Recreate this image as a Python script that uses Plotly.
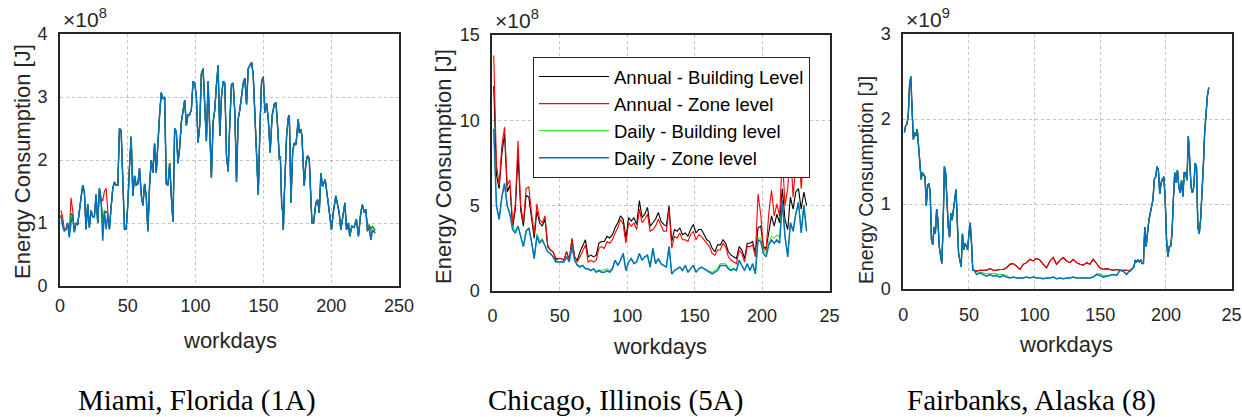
import numpy as np
import plotly.graph_objects as go

W, H = 1242, 417

# ---------------- DATA ----------------
# Miami, Florida (1A)  – units 1e8 J
miami_days_early = np.linspace(0.7, 153.6, 125)
miami_daily_zone_early = [
    1.13, 0.95, 0.87, 0.9, 1.0, 0.77, 1.0, 1.13, 0.85, 1.0,
    0.97, 1.2, 1.45, 1.6, 1.5, 0.9, 1.3, 0.93, 1.2, 1.1,
    1.1, 1.45, 1.0, 1.55, 1.35, 0.72, 1.2, 0.9, 1.13, 0.9,
    1.25, 1.55, 1.65, 1.6, 1.6, 2.5, 2.47, 1.65, 0.9, 0.9,
    1.3, 1.9, 2.37, 1.43, 1.75, 1.6, 1.62, 1.87, 1.45, 1.28,
    1.62, 1.43, 0.87, 1.6, 2.0, 1.8, 2.26, 1.8, 2.3, 2.72,
    3.07, 2.97, 3.0, 1.62, 1.6, 1.95, 1.43, 1.02, 2.5, 2.45,
    1.95, 2.2, 2.6, 2.75, 2.95, 2.55, 2.72, 2.72, 2.8, 3.25,
    3.22, 3.0, 2.28, 2.55, 3.37, 3.45, 2.72, 2.3, 3.25, 2.32,
    1.72, 2.6, 2.8, 3.2, 3.5, 2.38, 3.0, 3.25, 3.22, 2.07,
    1.82, 2.6, 3.2, 3.22, 2.75, 1.65, 2.65, 2.8, 3.0, 3.22,
    3.3, 2.88, 3.45, 3.5, 3.55, 3.35, 2.65, 2.0, 1.45, 2.5,
    3.25, 3.32, 2.75, 2.9, 2.65,
]
miami_days_late = [
    155.0, 156.4, 158.1, 159.3, 160.6, 161.8, 162.5, 163.5, 164.2, 164.7,
    165.4, 166.2, 167.1, 168.4, 169.1, 169.6, 170.3, 171.6, 172.8, 174.0,
    175.7, 176.5, 177.7, 178.4, 180.1, 181.4, 182.6, 183.8, 184.6, 185.8,
    187.0, 188.7, 190.0, 191.2, 192.4, 193.6, 195.6, 197.3, 199.0, 200.2,
    201.5, 203.4, 204.7, 205.9, 207.1, 208.3, 210.1, 211.3, 212.7, 213.7,
    215.2, 216.9, 218.6, 220.1, 221.8, 223.0, 224.5, 225.5, 226.7, 228.0,
    229.2, 230.4, 232.4,
]
miami_daily_zone_late = [
    2.12, 2.70, 2.89, 2.91, 2.49, 2.01, 2.06, 1.27, 1.19, 0.89,
    1.43, 2.01, 2.38, 2.68, 2.71, 2.22, 1.32, 2.14, 2.27, 2.24,
    2.65, 2.43, 2.49, 2.38, 1.59, 1.97, 2.07, 2.02, 1.59, 1.0,
    1.0, 1.32, 1.37, 1.16, 1.79, 1.58, 1.69, 1.43, 1.11, 0.89,
    1.16, 1.43, 1.27, 1.16, 0.89, 1.05, 1.32, 0.89, 1.0, 0.79,
    0.95, 0.93, 1.06, 0.79, 1.16, 1.29, 1.16, 1.22, 0.87, 0.95,
    0.73, 0.89, 0.84,
]
# where the other Miami series differ visibly from the blue one
miami_annual_zone_start = [1.2, 1.1, 0.9, 0.9, 1.0, 0.8, 1.4, 1.2, 0.88, 1.0]
miami_annual_zone_mid = [1.4, 1.35, 1.5, 1.55, 1.2]          # indices 24..28
miami_daily_bldg_start = [1.1, 0.97, 0.88, 0.9, 1.0, 0.8, 1.15, 1.13, 0.86, 1.0]
miami_daily_bldg_mid = [1.36, 1.0, 1.15, 1.18, 1.15]         # indices 24..28
miami_daily_bldg_end = [0.95, 0.97, 0.9, 0.95, 0.88]          # last 5 points

# Chicago, Illinois (5A) – units 1e8 J, every second workday
chicago_days = list(range(1, 234, 2))
chicago_annual_bldg = [
    12.0, 6.8, 6.0, 8.0, 9.2, 5.8, 6.2, 3.7, 4.8, 8.0,
    4.7, 3.8, 5.6, 5.5, 4.3, 3.1, 4.7, 4.0, 3.8, 4.2,
    2.6, 2.4, 2.3, 1.9, 1.9, 1.9, 1.8, 2.3, 1.8, 3.0,
    2.0, 1.8, 2.3, 2.7, 3.0, 2.0, 2.1, 2.0, 2.1, 2.8,
    2.9, 2.9, 3.2, 3.1, 3.3, 3.7, 4.0, 4.4, 4.2, 3.1,
    4.3, 4.1, 4.3, 3.9, 5.3, 4.3, 4.5, 4.9, 3.8, 4.0,
    4.2, 4.6, 4.1, 3.9, 3.8, 5.0, 2.9, 3.6, 3.5, 3.7,
    3.3, 3.4, 3.2, 3.6, 3.9, 3.4, 3.6, 3.6, 3.3, 3.0,
    2.9, 2.5, 2.3, 2.7, 2.7, 3.0, 2.8, 2.3, 2.1, 2.0,
    1.9, 2.6, 2.4, 1.9, 2.8, 2.8, 2.9, 2.2, 3.7, 3.8,
    2.6, 2.5, 3.5, 4.4, 3.8, 4.5, 4.0, 6.0, 4.2, 3.6,
    5.5, 4.8, 5.8, 6.0, 4.8, 5.8, 5.0,
]
chicago_annual_zone = [
    13.8, 7.4, 6.2, 8.5, 9.6, 6.2, 6.5, 3.9, 5.1, 8.8,
    5.0, 4.0, 6.0, 6.1, 4.6, 3.3, 5.1, 4.2, 4.0, 4.4,
    2.7, 2.4, 2.3, 1.8, 1.9, 1.9, 1.8, 2.3, 1.8, 3.1,
    2.0, 1.7, 2.0, 2.4, 2.7, 1.7, 1.8, 1.7, 1.8, 2.5,
    2.6, 2.5, 2.9, 2.8, 3.0, 3.4, 3.7, 4.2, 3.9, 2.8,
    4.0, 3.8, 4.0, 3.6, 4.8, 4.0, 4.2, 4.5, 3.5, 3.6,
    3.8, 4.2, 3.8, 3.5, 3.5, 4.8, 2.5, 3.2, 3.1, 3.4,
    3.0, 3.0, 2.9, 3.3, 3.5, 3.0, 3.3, 3.2, 3.0, 2.8,
    2.6, 2.2, 2.1, 2.4, 2.4, 2.8, 2.6, 2.0, 1.8, 1.7,
    1.6, 2.4, 2.2, 1.7, 2.6, 2.6, 2.7, 2.0, 5.7, 4.5,
    2.5, 2.4, 4.6, 5.9, 4.4, 5.1, 4.4, 8.0, 5.0, 6.0,
    8.5, 5.5, 7.5, 8.8, 6.0, 8.0, 7.0,
]
chicago_daily_bldg = [
    9.5, 5.0, 4.2, 5.5, 6.3, 5.0, 4.5, 3.75, 3.55, 3.8,
    3.2, 2.6, 3.5, 3.7, 2.9, 1.9, 3.35, 2.95, 3.0, 2.6,
    2.3, 2.2, 2.0, 1.75, 1.75, 1.7, 1.7, 2.0, 1.75, 2.65,
    1.85, 1.55, 1.45, 1.5, 1.3, 1.3, 1.2, 1.3, 1.15, 1.25,
    1.2, 1.25, 1.3, 1.2, 1.35, 1.8, 1.5, 1.8, 2.2, 1.2,
    1.7, 1.9, 1.6, 1.7, 2.2, 1.8, 2.0, 2.1, 1.4, 2.5,
    1.6, 1.9, 1.6, 1.5, 1.4, 2.6, 1.0, 1.2, 1.3, 1.4,
    1.2, 1.5, 1.1, 1.3, 1.5, 1.1, 1.3, 1.4, 1.3, 1.2,
    1.15, 1.1, 1.2, 1.35, 1.6, 1.6, 1.6, 1.4, 1.25, 1.35,
    1.2, 1.8, 1.5, 1.2, 1.6, 1.2, 1.6, 1.0, 3.1, 3.1,
    2.4, 2.2, 2.9, 3.2, 3.1, 3.3, 3.1, 5.3, 3.2, 2.1,
    4.0, 3.6, 4.5, 5.2, 3.5, 5.0, 3.6,
]
chicago_daily_zone = [
    9.5, 5.0, 4.2, 5.5, 6.3, 5.0, 4.5, 3.6, 3.4, 3.8,
    3.2, 2.6, 3.5, 3.7, 2.9, 1.9, 3.2, 2.8, 3.0, 2.6,
    2.3, 2.2, 2.0, 1.7, 1.7, 1.7, 1.7, 2.0, 1.7, 2.6,
    1.8, 1.5, 1.4, 1.5, 1.3, 1.3, 1.2, 1.3, 1.1, 1.2,
    1.1, 1.1, 1.2, 1.1, 1.3, 1.8, 1.5, 1.8, 2.2, 1.2,
    1.7, 1.9, 1.6, 1.7, 2.2, 1.8, 2.0, 2.1, 1.4, 2.5,
    1.6, 1.9, 1.6, 1.5, 1.4, 2.6, 1.0, 1.2, 1.3, 1.4,
    1.2, 1.5, 1.1, 1.3, 1.5, 1.1, 1.3, 1.4, 1.3, 1.2,
    1.1, 1.0, 1.1, 1.2, 1.5, 1.5, 1.5, 1.3, 1.2, 1.3,
    1.2, 1.8, 1.5, 1.2, 1.6, 1.2, 1.6, 1.0, 3.0, 2.9,
    2.2, 2.0, 2.7, 3.0, 2.8, 3.0, 2.8, 5.3, 3.2, 2.0,
    4.0, 3.5, 4.5, 5.2, 3.4, 5.0, 3.5,
]

# Fairbanks, Alaska (8) – units 1e9 J
fair_days_winter1 = np.linspace(0.8, 53.9, 55)
fair_winter1 = [
    1.84, 1.92, 1.94, 2.03, 2.39, 2.5, 2.11, 1.76, 1.84, 1.8,
    1.88, 1.64, 1.52, 1.29, 1.37, 1.35, 1.32, 0.98, 1.22, 1.24,
    1.14, 0.58, 0.52, 0.73, 0.65, 0.94, 0.81, 0.50, 0.42, 0.30,
    0.73, 1.44, 1.36, 1.06, 0.73, 0.61, 0.89, 0.81, 0.97, 1.05,
    1.17, 0.69, 0.42, 0.34, 0.26, 0.65, 0.46, 0.54, 0.5, 0.46,
    0.65, 0.78, 0.54, 0.22, 0.22,
]
fair_days_summer = np.linspace(55.8, 172.6, 47)
fair_summer_annual_zone = [
    0.21, 0.22, 0.22, 0.22, 0.24, 0.22, 0.22, 0.23, 0.23, 0.25,
    0.29, 0.30, 0.27, 0.23, 0.29, 0.31, 0.35, 0.33, 0.36, 0.34,
    0.29, 0.25, 0.33, 0.37, 0.29, 0.34, 0.37, 0.33, 0.31, 0.35,
    0.31, 0.29, 0.28, 0.31, 0.29, 0.35, 0.30, 0.25, 0.23, 0.24,
    0.23, 0.22, 0.23, 0.22, 0.22, 0.22, 0.21,
]
fair_summer_daily_bldg = [
    0.18, 0.20, 0.19, 0.18, 0.18, 0.18, 0.18, 0.17, 0.17, 0.16,
    0.13, 0.14, 0.13, 0.13, 0.13, 0.14, 0.13, 0.14, 0.13, 0.13,
    0.12, 0.13, 0.13, 0.14, 0.12, 0.13, 0.12, 0.13, 0.13, 0.14,
    0.13, 0.13, 0.13, 0.13, 0.13, 0.14, 0.18, 0.18, 0.16, 0.16,
    0.16, 0.17, 0.16, 0.22, 0.21, 0.17, 0.22,
]
fair_summer_daily_zone = [
    0.17, 0.19, 0.17, 0.15, 0.17, 0.15, 0.16, 0.14, 0.16, 0.14,
    0.13, 0.14, 0.13, 0.13, 0.13, 0.14, 0.13, 0.14, 0.13, 0.13,
    0.12, 0.13, 0.13, 0.14, 0.12, 0.13, 0.12, 0.13, 0.13, 0.14,
    0.13, 0.13, 0.13, 0.13, 0.13, 0.14, 0.17, 0.16, 0.14, 0.15,
    0.16, 0.17, 0.16, 0.22, 0.21, 0.17, 0.22,
]
fair_days_winter2 = np.linspace(175.6, 232.6, 56)
fair_winter2 = [
    0.26, 0.34, 0.32, 0.34, 0.32, 0.34, 0.30, 0.30, 0.73, 0.5,
    0.69, 0.81, 0.89, 0.97, 1.05, 1.29, 1.32, 1.44, 1.40, 1.12,
    1.25, 1.29, 1.32, 1.05, 0.58, 0.38, 0.5, 0.5, 0.65, 1.05,
    1.37, 1.25, 1.4, 1.2, 1.13, 1.28, 1.09, 1.37, 1.37, 1.28,
    1.8, 1.52, 1.2, 1.13, 1.2, 1.48, 1.44, 0.73, 0.65, 0.81,
    1.09, 1.44, 1.84, 2.11, 2.27, 2.37,
]

series_names = ["Annual - Building Level", "Annual - Zone level",
                "Daily - Building level", "Daily - Zone level"]
series_colors = ["#000000", "#FF0000", "#00E000", "#0072BD"]
series_widths = [1.1, 1.1, 0.9, 1.5]

x_ticks = [0, 50, 100, 150, 200, 250]
captions = ["Miami, Florida (1A)", "Chicago, Illinois (5A)", "Fairbanks, Alaska (8)"]
exponents = ["8", "8", "9"]
y_ranges = [[0, 4], [0, 15], [0, 3]]
y_ticks = [[0, 1, 2, 3, 4], [0, 5, 10, 15], [0, 1, 2, 3]]

# ---------------- assemble series ----------------
miami_x = np.concatenate([miami_days_early, miami_days_late])
miami_blue = list(miami_daily_zone_early) + list(miami_daily_zone_late)
miami_red = list(miami_blue)
miami_red[0:10] = miami_annual_zone_start
miami_red[24:29] = miami_annual_zone_mid
miami_green = list(miami_blue)
miami_green[0:10] = miami_daily_bldg_start
miami_green[24:29] = miami_daily_bldg_mid
miami_green[-5:] = miami_daily_bldg_end
miami_black = list(miami_green)

fair_x = np.concatenate([fair_days_winter1, fair_days_summer, fair_days_winter2])
fair_red = fair_winter1 + fair_summer_annual_zone + fair_winter2
fair_black = list(fair_red)
fair_green = fair_winter1 + fair_summer_daily_bldg + fair_winter2
fair_blue = fair_winter1 + fair_summer_daily_zone + fair_winter2

panels = [
    (miami_x, [miami_black, miami_red, miami_green, miami_blue]),
    (chicago_days, [chicago_annual_bldg, chicago_annual_zone, chicago_daily_bldg, chicago_daily_zone]),
    (fair_x, [fair_black, fair_red, fair_green, fair_blue]),
]

# ---------------- layout geometry (pixels) ----------------
boxes = [  # left, right, top, bottom
    (60, 399, 34, 286),
    (492.4, 829.5, 35, 291),
    (903.3, 1231.6, 34, 289),
]

def px(v):
    return v / W

def py(v):
    return 1 - v / H

fig = go.Figure()
for i, (xs, ys_list) in enumerate(panels):
    ax = "" if i == 0 else str(i + 1)
    for j, ys in enumerate(ys_list):
        fig.add_trace(go.Scatter(
            x=xs, y=ys, mode="lines", name=series_names[j],
            line=dict(color=series_colors[j], width=series_widths[j]),
            xaxis="x" + ax, yaxis="y" + ax,
            showlegend=(i == 1), hoverinfo="skip",
        ))

tick_font = dict(family="Liberation Sans, Arial", size=18, color="#262626")
grid_col = "rgba(38,38,38,0.28)"
layout = dict(
    width=W, height=H, autosize=False, margin=dict(l=0, r=0, t=0, b=0, pad=0),
    paper_bgcolor="white", plot_bgcolor="white",
    font=dict(family="Liberation Sans, Arial", color="#262626"),
)
standoffs_x = [2, 7, 8]
for i, (l, r, t, b) in enumerate(boxes):
    ax = "" if i == 0 else str(i + 1)
    xt = [str(v) for v in x_ticks]
    if i > 0:
        xt[-1] = "25"
    layout["xaxis" + ax] = dict(
        domain=[px(l), px(r)], anchor="y" + ax, range=[0, 250],
        tickvals=x_ticks, ticktext=xt, tickfont=tick_font,
        showgrid=True, gridcolor=grid_col, griddash="dot", gridwidth=1,
        showline=True, linecolor="#262626", linewidth=2, mirror=True,
        zeroline=False, ticks="", ticklabelstandoff=standoffs_x[i], fixedrange=True,
        automargin=False,
    )
    layout["yaxis" + ax] = dict(
        domain=[py(b), py(t)], anchor="x" + ax, range=y_ranges[i],
        tickvals=y_ticks[i], tickfont=tick_font,
        showgrid=True, gridcolor=grid_col, griddash="dot", gridwidth=1,
        showline=True, linecolor="#262626", linewidth=2, mirror=True,
        zeroline=False, ticks="", ticklabelstandoff=7, fixedrange=True,
        automargin=False,
    )

layout["legend"] = dict(
    x=px(533), y=py(57), xanchor="left", yanchor="top",
    bgcolor="white", bordercolor="#262626", borderwidth=1,
    font=dict(family="Liberation Sans, Arial", size=18.5, color="#000000"),
    itemwidth=70, tracegroupgap=0,
)

annotations = []
ytitle_pos = [(22, 162, 22), (443, 166, 22), (866, 180, 19.5)]
xtitle_pos = [(230, 340), (660, 346), (1066, 344)]
caption_pos = [(196.5, 400), (615.5, 400), (1031.5, 400)]
for i, (l, r, t, b) in enumerate(boxes):
    annotations.append(dict(
        text="×10<sup>" + exponents[i] + "</sup>", xref="paper", yref="paper",
        x=px(l + 1), y=py(t - 1), xanchor="left", yanchor="bottom", showarrow=False,
        font=dict(family="Liberation Sans, Arial", size=21, color="#262626"),
    ))
    yx, yy, ys = ytitle_pos[i]
    annotations.append(dict(
        text="Energy Consumption [J]", xref="paper", yref="paper",
        x=px(yx), y=py(yy), xanchor="center", yanchor="middle", textangle=-90,
        showarrow=False, font=dict(family="Liberation Sans, Arial", size=ys, color="#262626"),
    ))
    xx, xy = xtitle_pos[i]
    annotations.append(dict(
        text="workdays", xref="paper", yref="paper",
        x=px(xx), y=py(xy), xanchor="center", yanchor="middle",
        showarrow=False, font=dict(family="Liberation Sans, Arial", size=22, color="#262626"),
    ))
    cx, cy = caption_pos[i]
    annotations.append(dict(
        text=captions[i], xref="paper", yref="paper",
        x=px(cx), y=py(cy), xanchor="center", yanchor="middle",
        showarrow=False, font=dict(family="Liberation Serif, Times New Roman", size=29, color="#000000"),
    ))
layout["annotations"] = annotations

fig.update_layout(**layout)
fig.write_html(
    "out.html", include_plotlyjs=True, full_html=True,
    config={"displayModeBar": False, "responsive": False},
    post_script=(
        "document.documentElement.style.margin='0';"
        "document.documentElement.style.padding='0';"
        "document.documentElement.style.overflow='hidden';"
        "document.body.style.margin='0';"
        "document.body.style.padding='0';"
        "document.body.style.overflow='hidden';"
    ),
)
